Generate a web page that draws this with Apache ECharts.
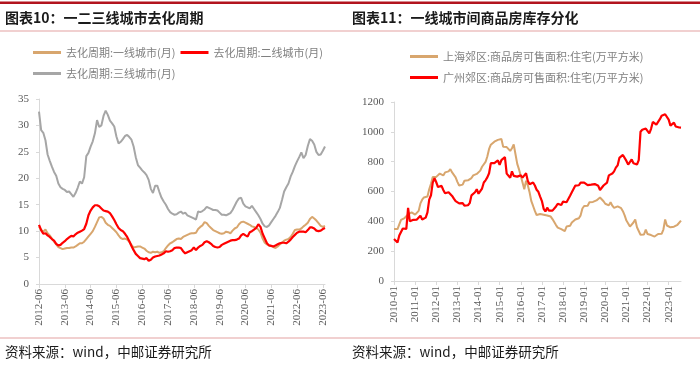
<!DOCTYPE html>
<html><head><meta charset="utf-8">
<script src="https://cdn.jsdelivr.net/npm/echarts@6/dist/echarts.min.js"></script>
<style>html,body{margin:0;padding:0;background:#fff}#c{width:700px;height:366px}</style>
</head><body><div id="c"></div>
<script>
// ---- categories ----
function monthCats(y, m, n) {
  var out = [];
  for (var k = 0; k < n; k++) {
    var mm = m + k, yy = y + Math.floor((mm - 1) / 12), mo = ((mm - 1) % 12) + 1;
    out.push(yy + '-' + (mo < 10 ? '0' + mo : mo));
  }
  return out;
}
var leftCategories = monthCats(2012, 6, 134);   // 2012-06 .. 2023-07
var rightCategories = monthCats(2010, 1, 164);  // 2010-01 .. 2023-08

// ---- series names ----
var leftNames = ['去化周期:一线城市(月)', '去化周期:二线城市(月)', '去化周期:三线城市(月)'];
var rightNames = ['上海郊区:商品房可售面积:住宅(万平方米)', '广州郊区:商品房可售面积:住宅(万平方米)'];

// ---- left chart values (months) ----
var tier1 = [10.9,10.2,9.9,10.3,9.6,9.2,8.6,8.0,7.5,7.0,
6.8,6.6,6.7,6.8,6.8,6.9,6.9,7.1,7.4,7.7,
7.7,8.0,8.5,9.0,9.5,10.0,10.8,11.7,12.6,12.7,
12.4,11.6,11.2,11.0,10.6,10.2,9.8,9.2,8.7,8.5,
8.6,8.4,8.0,7.4,6.9,7.0,7.1,7.1,6.9,6.7,
6.3,6.0,5.9,6.1,6.0,6.1,5.9,6.0,6.2,6.8,
7.3,7.7,7.9,8.2,8.5,8.6,8.5,8.9,9.1,9.3,
9.5,9.6,9.6,9.7,10.4,10.8,11.1,11.7,11.5,11.0,
10.6,10.2,10.0,9.8,9.6,9.5,9.6,9.9,9.8,9.6,
10.1,10.5,10.7,11.3,11.7,11.8,11.6,11.4,11.2,10.9,
10.8,10.6,10.3,9.7,8.6,7.8,7.5,7.3,7.2,7.0,
6.8,7.1,7.5,7.8,8.2,8.4,8.5,8.9,9.5,10.2,
10.3,10.3,10.5,10.9,11.2,11.6,12.3,12.7,12.4,12.0,
11.5,11.0,10.8,11.0];
var tier2 = [11.2,10.2,9.5,9.6,9.2,8.9,8.5,8.2,7.6,7.3,
7.4,7.8,8.1,8.5,8.8,9.1,9.0,9.4,9.7,9.9,
10.1,10.4,11.4,13.0,13.9,14.5,14.9,14.9,14.7,14.3,
13.9,13.8,13.7,13.4,12.8,12.1,11.3,10.6,10.2,10.0,
9.5,8.9,8.1,7.2,6.4,5.7,5.3,4.9,4.8,4.7,
4.9,4.4,4.6,5.0,5.2,5.3,5.4,5.6,5.8,6.2,
6.1,6.2,6.4,6.8,6.9,6.9,6.8,6.2,5.8,6.0,
6.2,6.4,6.9,6.4,6.9,7.2,7.4,7.9,8.1,7.9,
7.6,7.2,7.0,6.9,7.0,7.4,7.6,7.8,8.0,8.2,
8.3,8.3,8.4,8.6,9.2,9.5,9.2,9.0,9.8,10.0,
10.3,10.6,11.3,10.8,9.5,8.6,7.7,7.3,7.2,7.1,
7.3,7.5,7.7,7.8,7.8,7.7,8.0,8.4,8.9,9.3,
9.7,9.9,9.9,9.9,9.8,10.2,10.7,10.7,10.5,10.1,
10.0,10.1,10.4,10.6];
var tier3 = [32.6,29.1,28.6,27.2,24.5,23.3,22.2,21.2,20.5,19.0,
18.3,18.0,17.8,17.4,17.5,17.0,16.5,17.2,18.2,19.4,
19.0,20.2,24.2,24.8,26.0,27.0,28.5,31.0,29.7,30.0,
31.8,32.8,32.0,30.9,30.4,29.8,27.9,26.6,26.9,27.4,
28.0,28.2,27.8,27.3,26.0,24.0,22.5,22.0,21.5,21.1,
20.6,19.7,18.0,17.2,18.6,18.6,17.4,16.3,15.6,15.0,
14.2,13.6,13.3,13.1,13.2,13.5,13.7,13.3,13.5,13.0,
12.8,12.6,12.4,12.2,13.7,13.6,13.8,14.1,14.6,14.4,
14.2,14.0,14.0,13.9,13.5,13.1,13.1,13.0,13.2,13.4,
14.0,14.8,15.6,16.2,16.3,15.2,14.7,14.5,14.3,14.8,
14.2,13.6,13.0,12.3,11.4,10.9,10.8,11.1,11.7,12.3,
12.9,13.6,14.4,15.9,17.5,18.3,19.0,20.3,21.2,22.3,
23.2,24.0,24.9,23.8,24.4,26.1,27.4,27.1,26.4,25.0,
24.4,24.5,25.2,26.0];

// ---- right chart values (months) ----
var shanghai = [349,342,348,380,410,418,422,435,446,452,
460,453,445,446,470,520,545,560,563,566,
615,652,698,698,698,709,720,712,708,728,
716,735,750,728,716,695,665,640,640,646,
672,662,675,674,690,708,708,718,728,740,
766,776,798,835,885,914,925,934,940,946,
946,952,900,901,898,888,872,890,915,850,
785,748,705,660,615,672,642,595,535,503,
470,442,444,449,446,444,440,439,436,432,
415,395,375,358,350,348,345,335,365,352,
370,392,404,412,416,421,440,486,503,497,
505,528,529,530,533,540,546,560,549,535,
518,512,507,528,505,490,483,500,505,488,
468,440,405,386,365,360,392,412,360,335,
310,304,312,345,315,312,308,306,298,300,
315,320,316,345,412,372,360,360,360,364,
368,377,390,405];
var guangzhou = [281,272,258,305,310,352,348,350,490,400,
402,410,412,412,420,438,412,410,425,460,
545,575,660,690,662,630,640,638,610,588,
595,595,605,570,552,535,540,520,533,522,
505,495,508,522,574,574,595,615,585,592,
620,660,675,695,722,790,800,790,795,808,
778,810,800,830,720,720,692,735,705,715,
700,712,708,693,708,722,670,648,645,660,
640,612,598,566,536,484,466,492,472,468,
472,485,500,518,525,510,532,529,528,534,
572,595,608,640,646,642,660,668,660,652,
643,650,646,640,650,643,638,610,618,640,
642,660,708,720,720,735,760,775,825,833,
845,855,805,780,768,815,790,777,781,810,
1000,1014,1024,1022,1010,990,1020,1066,1055,1048,
1047,1085,1108,1114,1118,1124,1082,1042,1036,1062,
1036,1031,1029,1028];

var TAN = '#D8A66E', RED = '#FF0000', GRAY = '#A6A6A6';
var AXIS = '#D9D9D9', LABEL = '#595959';
var serif = '"Liberation Serif", "DejaVu Serif", serif';
var cjk = '"Noto Sans CJK SC", "Noto Sans", sans-serif';

function every12(idx) { return idx % 12 === 0; }
function xAxisOf(g, cats) {
  return {
    type: 'category', gridIndex: g, data: cats, boundaryGap: false,
    axisLine: { lineStyle: { color: AXIS, width: 1 } },
    axisTick: { interval: every12, length: 4, lineStyle: { color: AXIS } },
    axisLabel: { interval: every12, rotate: 90, margin: 5, color: LABEL, fontFamily: serif, fontSize: 11 },
    splitLine: { show: false }
  };
}
function yAxisOf(g, max, step) {
  return {
    type: 'value', gridIndex: g, min: 0, max: max, interval: step,
    axisLine: { show: true, lineStyle: { color: AXIS } },
    axisTick: { show: true, length: 3, lineStyle: { color: AXIS } },
    axisLabel: { margin: 10, color: LABEL, fontFamily: serif, fontSize: 11,
      formatter: function (v) { return String(v); } },
    splitLine: { show: false }
  };
}
function lineOf(name, data, color, xi, w) {
  return {
    name: name, type: 'line', xAxisIndex: xi, yAxisIndex: xi, data: data,
    showSymbol: false, symbol: 'none', smooth: false,
    lineStyle: { color: color, width: w }, itemStyle: { color: color },
    emphasis: { disabled: true }, animation: false
  };
}
function legendOf(left, top, names) {
  return {
    left: left, top: top, data: names, icon: 'rect', itemWidth: 28, itemHeight: 3,
    itemGap: 5, padding: 0, selectedMode: false,
    textStyle: { fontFamily: cjk, fontSize: 11, color: '#808080' }
  };
}

var chart = echarts.init(document.getElementById('c'), null, { renderer: 'canvas' });
chart.setOption({
  animation: false,
  backgroundColor: '#fff',
  grid: [
    { left: 39, top: 99, width: 286, height: 185 },
    { left: 394, top: 102, width: 287, height: 179 }
  ],
  xAxis: [xAxisOf(0, leftCategories), xAxisOf(1, rightCategories)],
  yAxis: [yAxisOf(0, 35, 5), yAxisOf(1, 1200, 200)],
  legend: [
    legendOf(33, 47, [leftNames[0], leftNames[1]]),
    legendOf(33, 68, [leftNames[2]]),
    legendOf(410, 51, [rightNames[0]]),
    legendOf(410, 72, [rightNames[1]])
  ],
  series: [
    lineOf(leftNames[0], tier1, TAN, 0, 2),
    lineOf(leftNames[2], tier3, GRAY, 0, 2),
    lineOf(leftNames[1], tier2, RED, 0, 2.2),
    lineOf(rightNames[0], shanghai, TAN, 1, 2),
    lineOf(rightNames[1], guangzhou, RED, 1, 2.2)
  ],
  graphic: [
    { type: 'rect', shape: { x: 0, y: 1.5, width: 700, height: 2.5 }, style: { fill: '#B2141E' }, silent: true },
    { type: 'rect', shape: { x: 0, y: 30.5, width: 700, height: 1 }, style: { fill: '#E3A1A1' }, silent: true },
    { type: 'rect', shape: { x: 0, y: 337.5, width: 700, height: 1 }, style: { fill: '#E3A1A1' }, silent: true },
    { type: 'text', x: 5, y: 18, style: { text: '图表10：一二三线城市去化周期', font: 'bold 14px ' + cjk, fill: '#1A1A1A', verticalAlign: 'middle' }, silent: true },
    { type: 'text', x: 352, y: 18, style: { text: '图表11：一线城市间商品房库存分化', font: 'bold 14px ' + cjk, fill: '#1A1A1A', verticalAlign: 'middle' }, silent: true },
    { type: 'text', x: 5, y: 352, style: { text: '资料来源：wind，中邮证券研究所', font: '13.5px ' + cjk, fill: '#1A1A1A', verticalAlign: 'middle' }, silent: true },
    { type: 'text', x: 352, y: 352, style: { text: '资料来源：wind，中邮证券研究所', font: '13.5px ' + cjk, fill: '#1A1A1A', verticalAlign: 'middle' }, silent: true }
  ]
});
</script></body></html>
